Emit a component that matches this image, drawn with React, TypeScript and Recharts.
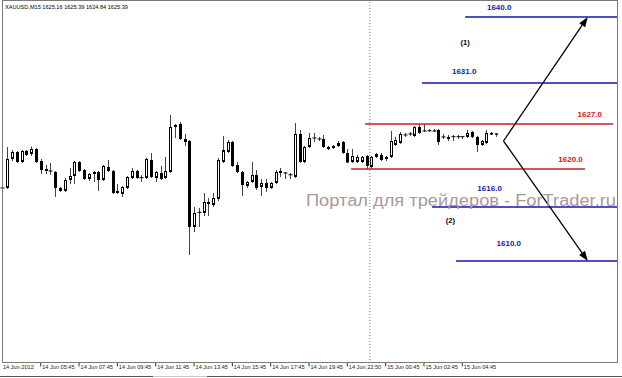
import React from "react";
import {
  ComposedChart,
  Bar,
  XAxis,
  YAxis,
  ReferenceLine,
  ReferenceDot,
} from "recharts";

// XAUUSD M15 bars, 14 Jun 03:45 -> 15 Jun 05:00
const opens = [
  1616.74, 1616.9, 1621.41, 1622.49, 1620.94, 1622.65, 1622.18, 1622.96, 1621.09, 1619.85,
  1619.54, 1619.38, 1616.9, 1616.43, 1618.14, 1618.76, 1620.94, 1619.69, 1618.3, 1619.07,
  1619.38, 1618.14, 1620.16, 1619.54, 1616.43, 1615.96, 1616.9, 1618.45, 1619.54, 1618.45,
  1618.45, 1621.25, 1618.45, 1619.23, 1618.45, 1619.38, 1626.38, 1626.85, 1624.52, 1624.2,
  1610.83, 1613.01, 1613.01, 1614.72, 1614.25, 1615.19, 1620.94, 1622.49, 1624.05, 1620.47,
  1619.38, 1617.21, 1617.83, 1618.92, 1617.05, 1617.67, 1616.9, 1617.67, 1619.54, 1619.23,
  1618.92, 1618.61, 1625.29, 1620.94, 1623.27, 1624.67, 1624.52, 1624.52, 1623.27, 1623.12,
  1623.43, 1624.05, 1622.34, 1620.94, 1620.94, 1620.94, 1621.87, 1620.16, 1621.72, 1622.03,
  1621.41, 1621.72, 1623.58, 1623.89, 1625.14, 1625.29, 1624.98, 1626.38, 1625.76, 1625.76,
  1625.72, 1625.91, 1624.83, 1624.52, 1624.83, 1624.87, 1624.83, 1624.83, 1625.6, 1624.83,
  1623.58, 1623.89, 1625.45, 1625.16,
];
const highs = [
  1617.05, 1623.27, 1622.8, 1622.65, 1622.8, 1622.8, 1623.35, 1623.12, 1621.41, 1620.47,
  1620.78, 1619.54, 1617.05, 1618.45, 1620.01, 1621.09, 1621.09, 1619.85, 1619.23, 1619.54,
  1619.54, 1620.47, 1621.25, 1619.69, 1617.52, 1617.21, 1618.76, 1620.01, 1619.69, 1618.92,
  1621.56, 1622.34, 1619.54, 1620.32, 1621.72, 1628.25, 1626.85, 1627.16, 1625.29, 1624.36,
  1613.94, 1613.79, 1616.12, 1615.34, 1616.12, 1621.56, 1624.98, 1624.36, 1624.2, 1620.94,
  1619.54, 1617.98, 1620.94, 1619.69, 1618.3, 1618.3, 1617.83, 1619.69, 1620.01, 1619.38,
  1619.23, 1627.0, 1625.91, 1623.43, 1625.45, 1625.45, 1624.83, 1625.14, 1623.43, 1623.58,
  1624.2, 1624.2, 1622.96, 1622.96, 1622.03, 1621.87, 1622.03, 1621.87, 1622.34, 1622.34,
  1621.87, 1625.76, 1624.83, 1625.6, 1625.45, 1625.6, 1626.54, 1626.85, 1626.85, 1626.07,
  1626.07, 1626.07, 1625.29, 1625.14, 1625.14, 1625.14, 1624.98, 1625.91, 1625.76, 1624.98,
  1624.36, 1625.91, 1625.6, 1625.39,
];
const lows = [
  1616.58, 1616.74, 1621.09, 1620.78, 1620.78, 1621.87, 1621.87, 1620.78, 1619.07, 1619.07,
  1618.92, 1615.5, 1616.27, 1616.27, 1617.52, 1617.52, 1619.38, 1618.14, 1617.98, 1617.83,
  1616.43, 1617.98, 1619.38, 1615.96, 1615.96, 1615.5, 1616.74, 1618.3, 1618.3, 1617.83,
  1618.3, 1618.45, 1617.83, 1618.14, 1618.3, 1619.23, 1624.67, 1624.36, 1623.43, 1606.48,
  1610.05, 1610.83, 1612.54, 1612.54, 1613.94, 1614.87, 1620.78, 1622.34, 1620.16, 1619.23,
  1615.65, 1616.9, 1617.67, 1616.58, 1615.65, 1616.27, 1616.74, 1617.52, 1618.61, 1618.3,
  1618.3, 1618.45, 1620.78, 1620.78, 1623.12, 1624.05, 1624.2, 1623.12, 1622.8, 1622.96,
  1623.27, 1622.18, 1620.78, 1620.78, 1620.78, 1620.78, 1619.85, 1619.85, 1621.56, 1621.09,
  1621.09, 1621.56, 1623.43, 1623.74, 1624.83, 1624.98, 1624.83, 1625.29, 1625.6, 1625.6,
  1625.6, 1623.58, 1624.52, 1624.2, 1624.2, 1624.52, 1624.52, 1624.67, 1624.67, 1622.49,
  1623.43, 1623.74, 1625.14, 1624.84,
];
const closes = [
  1616.9, 1621.41, 1622.49, 1620.94, 1622.65, 1622.03, 1622.96, 1620.94, 1619.69, 1619.54,
  1619.5, 1616.9, 1616.43, 1618.14, 1618.76, 1620.94, 1619.54, 1618.3, 1619.07, 1619.38,
  1618.14, 1620.32, 1619.54, 1616.12, 1616.12, 1617.05, 1618.61, 1619.54, 1618.45, 1618.5,
  1621.41, 1618.61, 1619.38, 1618.3, 1619.54, 1626.38, 1626.69, 1624.52, 1624.05, 1610.83,
  1613.01, 1613.1, 1614.72, 1614.41, 1615.34, 1621.25, 1622.8, 1624.05, 1620.32, 1619.38,
  1617.36, 1617.83, 1618.92, 1616.9, 1617.67, 1616.9, 1617.67, 1619.38, 1619.23, 1619.18,
  1618.95, 1625.29, 1620.94, 1623.27, 1624.67, 1624.6, 1624.45, 1623.27, 1622.96, 1623.43,
  1623.89, 1622.34, 1620.86, 1621.87, 1621.72, 1621.72, 1620.32, 1621.72, 1622.18, 1621.25,
  1621.72, 1624.2, 1624.36, 1625.29, 1625.1, 1625.25, 1626.38, 1625.45, 1625.72, 1625.8,
  1625.76, 1624.05, 1624.8, 1624.83, 1624.87, 1624.83, 1624.87, 1625.45, 1624.83, 1623.58,
  1624.2, 1625.45, 1625.2, 1625.39,
];

const SLOTS = 129; // bars + empty space on the right
const tickIdx = [0, 8, 16, 24, 32, 40, 48, 56, 64, 72, 80, 88, 96];
const tickText = [
  "14 Jun 2012", "14 Jun 05:45", "14 Jun 07:45", "14 Jun 09:45", "14 Jun 11:45",
  "14 Jun 13:45", "14 Jun 15:45", "14 Jun 17:45", "14 Jun 19:45", "14 Jun 22:50",
  "15 Jun 00:45", "15 Jun 02:45", "15 Jun 04:45",
];

// hand-drawn levels (where they sit on the chart) and their captions
const levelAt = [1643.49, 1633.22, 1626.85, 1619.85, 1613.94, 1605.54];
const levelFrom = [96.6, 87.6, 75.7, 72.8, 89.7, 94.7];
const levelTo = [128.5, 128.5, 127.5, 121.6, 128.5, 128.5];
const levelColor = ["#1414b4", "#1414b4", "#c81e28", "#c81e28", "#1414b4", "#1414b4"];

const noteText = ["1640.0", "1631.0", "1627.0", "1620.0", "1616.0", "1610.0", "(1)", "(2)"];
const noteIdx = [103.7, 96.4, 122.6, 118.6, 101.7, 105.7, 96.6, 93.5];
const notePrice = [1644.89, 1634.98, 1628.25, 1621.25, 1616.85, 1608.3, 1639.55, 1611.81];
const noteColor = ["#1a1aa8", "#1a1aa8", "#d01818", "#d01818", "#1a1aa8", "#1a1aa8", "#000", "#000"];

const pivot = { i: 104.6, p: 1624.2 };
const arrowTips = [
  { i: 122.2, p: 1643.49 },
  { i: 122.2, p: 1605.54 },
];
const separatorAt = 76.7;

const rows = Array.from({ length: SLOTS }, (_, i) =>
  i < opens.length
    ? { i, o: opens[i], h: highs[i], l: lows[i], c: closes[i], range: [lows[i], highs[i]] }
    : { i }
);

const Candle = (props: any) => {
  const { x, y, width, height, payload } = props;
  if (!payload || payload.o == null || !height) return <g />;
  const { o, h, l, c } = payload;
  const k = height / (h - l);
  const cx = Math.round(x + width / 2) + 0.5;
  const top = y + (h - Math.max(o, c)) * k;
  const bot = y + (h - Math.min(o, c)) * k;
  const up = c >= o;
  let body;
  if (bot - top < 1.2) {
    body = <line x1={cx - 2} x2={cx + 2} y1={top} y2={top} stroke="#000" strokeWidth={1} />;
  } else if (up) {
    body = (
      <rect x={cx - 1} y={top + 0.5} width={2} height={bot - top - 1} fill="#fff" stroke="#000" strokeWidth={1} />
    );
  } else {
    body = <rect x={cx - 1.5} y={top} width={3} height={bot - top} fill="#000" />;
  }
  return (
    <g>
      <line x1={cx} x2={cx} y1={y} y2={y + height} stroke="#444" strokeWidth={1} />
      {body}
    </g>
  );
};

const TimeTick = (props: any) => {
  const { x, y, payload } = props;
  const k = tickIdx.indexOf(payload.value);
  if (k < 0) return <g />;
  return (
    <g>
      {k > 0 && <line x1={x} x2={x} y1={y} y2={y + 3.5} stroke="#333" strokeWidth={1} />}
      <text
        x={k > 0 ? x + 1.5 : 3}
        y={y + 6.3}
        fontSize={5.6}
        fontFamily="Liberation Sans, Arial, sans-serif"
        fill="#222"
      >
        {tickText[k]}
      </text>
    </g>
  );
};

const Arrow = (props: any) => {
  const { x1, y1, x2, y2 } = props;
  const a = Math.atan2(y2 - y1, x2 - x1);
  const len = 10;
  const half = 3.6;
  const bx = x2 - len * Math.cos(a);
  const by = y2 - len * Math.sin(a);
  const pts = [
    `${x2},${y2}`,
    `${bx + half * Math.sin(a)},${by - half * Math.cos(a)}`,
    `${bx - half * Math.sin(a)},${by + half * Math.cos(a)}`,
  ].join(" ");
  return (
    <g>
      <line x1={x1} y1={y1} x2={bx} y2={by} stroke="#000" strokeWidth={1.3} />
      <polygon points={pts} fill="#000" />
    </g>
  );
};

export default function App() {
  return (
    <div
      style={{
        position: "absolute",
        left: 0,
        top: 0,
        width: 622,
        height: 378,
        overflow: "hidden",
        background: "#fff",
      }}
    >
      <ComposedChart
        width={622}
        height={378}
        data={rows}
        margin={{ top: 1, right: 4, bottom: 0, left: 0 }}
      >
        <XAxis
          dataKey="i"
          type="category"
          ticks={tickIdx}
          interval={0}
          tick={<TimeTick />}
          tickLine={false}
          tickSize={0}
          tickMargin={0}
          axisLine={false}
          height={15}
        />
        <XAxis
          xAxisId="num"
          dataKey="i"
          type="number"
          domain={[-0.5, SLOTS - 0.5]}
          allowDataOverflow
          hide
        />
        <YAxis type="number" domain={[1589.68, 1645.97]} allowDataOverflow hide />

        <ReferenceLine
          xAxisId="num"
          x={separatorAt}
          stroke="#777"
          strokeDasharray="1 2"
          strokeWidth={1}
        />

        <Bar dataKey="range" shape={Candle} isAnimationActive={false} />

        {levelAt.map((p, k) => (
          <ReferenceLine
            key={`lvl${k}`}
            xAxisId="num"
            segment={[
              { x: levelFrom[k], y: p },
              { x: levelTo[k], y: p },
            ]}
            stroke={levelColor[k]}
            strokeWidth={1.5}
          />
        ))}

        {arrowTips.map((t, k) => (
          <ReferenceLine
            key={`arr${k}`}
            xAxisId="num"
            segment={[
              { x: pivot.i, y: pivot.p },
              { x: t.i, y: t.p },
            ]}
            shape={Arrow}
          />
        ))}

        {noteText.map((txt, k) => (
          <ReferenceDot
            key={`note${k}`}
            xAxisId="num"
            x={noteIdx[k]}
            y={notePrice[k]}
            r={0}
            shape={(p: any) => (
              <text
                x={p.cx}
                y={p.cy}
                textAnchor="middle"
                dominantBaseline="central"
                fontSize={k < 6 ? 8 : 7.5}
                fontWeight="bold"
                fontFamily="Liberation Sans, Arial, sans-serif"
                fill={noteColor[k]}
              >
                {txt}
              </text>
            )}
          />
        ))}
      </ComposedChart>

      {/* window frame, header and watermark */}
      <div
        style={{
          position: "absolute",
          left: 2,
          top: 0,
          width: 616,
          height: 363,
          border: "1px solid #7a7a7a",
          boxSizing: "border-box",
          pointerEvents: "none",
        }}
      />
      <div style={{ position: "absolute", left: 0, top: 376, width: 153, height: 1, background: "#555" }} />
      <div style={{ position: "absolute", left: 153, top: 376, width: 54, height: 1, background: "#ccc" }} />
      <div style={{ position: "absolute", left: 207, top: 376, width: 415, height: 1, background: "#555" }} />
      <svg
        width={622}
        height={378}
        style={{ position: "absolute", left: 0, top: 0, pointerEvents: "none" }}
      >
        <text
          x={5}
          y={9.3}
          fontSize={5.6}
          fontFamily="Liberation Sans, Arial, sans-serif"
          fill="#000"
          textLength={123}
          lengthAdjust="spacingAndGlyphs"
        >
          XAUUSD,M15  1625.16 1625.39 1624.84 1625.39
        </text>
        <text
          x={306}
          y={205.5}
          fontSize={15.8}
          fontFamily="Liberation Sans, Arial, sans-serif"
          fill="#a8999a"
          textLength={310}
          lengthAdjust="spacingAndGlyphs"
        >
          Портал для трейдеров - ForTrader.ru
        </text>
      </svg>
    </div>
  );
}
